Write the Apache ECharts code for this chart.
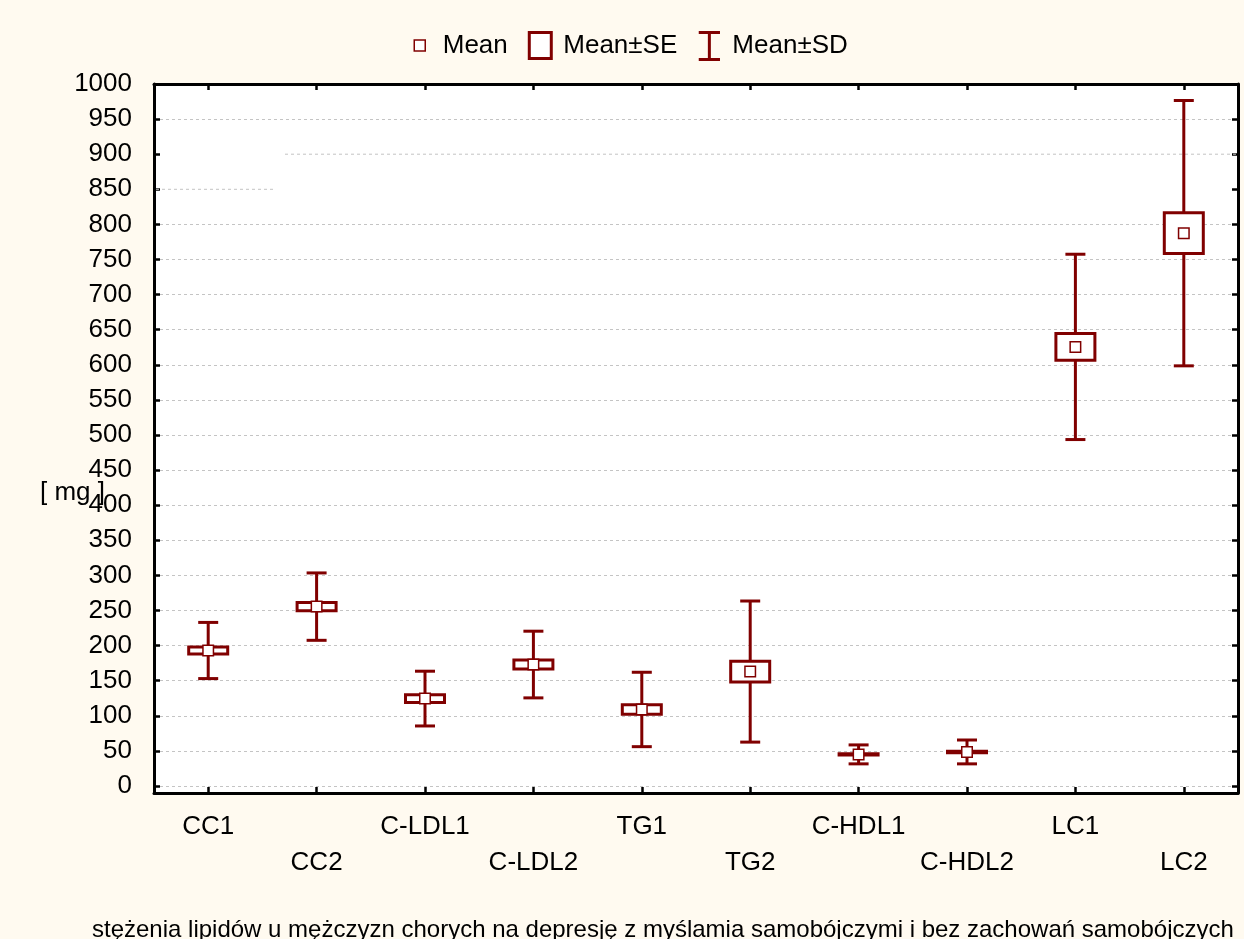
<!DOCTYPE html>
<html>
<head>
<meta charset="utf-8">
<script src="https://cdn.jsdelivr.net/npm/echarts@6/dist/echarts.min.js"></script>
<style>
  html, body { margin: 0; padding: 0; background: #fffaf0; }
  #main { width: 1244px; height: 939px; }
</style>
</head>
<body>
<div id="main"></div>
<script>
// dane
const categories = ['CC1', 'CC2', 'C-LDL1', 'C-LDL2', 'TG1', 'TG2', 'C-HDL1', 'C-HDL2', 'LC1', 'LC2'];
const means = [193, 255.5, 124.5, 173, 109, 163, 45, 48.5, 625.5, 787.5];
const seValues = [5, 6, 5.5, 6.5, 6.8, 14.7, 1, 1, 19, 29];
const sdValues = [40, 48, 39, 47.5, 53, 100.5, 13.5, 17, 132, 189];
const yTicks = [0, 50, 100, 150, 200, 250, 300, 350, 400, 450, 500, 550, 600, 650, 700, 750, 800, 850, 900, 950, 1000];
const xTitle = 'stężenia lipidów u mężczyzn chorych na depresję z myślamia samobójczymi i bez zachowań samobójczych';

const RED = '#800000';
const FONT = 'Arial, "Liberation Sans", sans-serif';

const seriesData = categories.map((c, i) => [i, means[i], seValues[i], sdValues[i]]);

// linie siatki - 850 i 900 rysowane osobno (tylko fragmenty)
const gridColors = yTicks.map(v => (v === 850 || v === 900) ? 'rgba(0,0,0,0)' : '#c4c4c4');

const chart = echarts.init(document.getElementById('main'));

function sdItem(params, api) {
  const x = api.coord([api.value(0), 0])[0];
  const top = api.coord([api.value(0), api.value(1) + api.value(3)])[1];
  const bot = api.coord([api.value(0), api.value(1) - api.value(3)])[1];
  const cap = 10;
  const st = { stroke: RED, lineWidth: 3 };
  return {
    type: 'group',
    children: [
      { type: 'line', shape: { x1: x, y1: top, x2: x, y2: bot }, style: st },
      { type: 'line', shape: { x1: x - cap, y1: top, x2: x + cap, y2: top }, style: st },
      { type: 'line', shape: { x1: x - cap, y1: bot, x2: x + cap, y2: bot }, style: st }
    ]
  };
}

function seItem(params, api) {
  const x = api.coord([api.value(0), 0])[0];
  const top = api.coord([api.value(0), api.value(1) + api.value(2)])[1];
  const bot = api.coord([api.value(0), api.value(1) - api.value(2)])[1];
  const hw = 19.5;
  return {
    type: 'rect',
    shape: { x: x - hw, y: top, width: hw * 2, height: bot - top },
    style: { fill: '#fff', stroke: RED, lineWidth: 3 }
  };
}

function meanItem(params, api) {
  const p = api.coord([api.value(0), api.value(1)]);
  const h = 5.25;
  return {
    type: 'rect',
    shape: { x: p[0] - h, y: p[1] - h, width: h * 2, height: h * 2 },
    style: { fill: '#fff', stroke: RED, lineWidth: 1.5 }
  };
}

const axisLine = { show: true, onZero: false, lineStyle: { color: '#000', width: 3 } };
const tickIn = { show: true, inside: true, length: 6, lineStyle: { color: '#000', width: 2.5 } };

const option = {
  backgroundColor: '#fffaf0',
  animation: false,
  textStyle: { fontFamily: FONT },
  legend: {
    top: 25,
    left: 402,
    itemWidth: 24,
    itemHeight: 28,
    itemGap: 19,
    selectedMode: false,
    textStyle: { fontSize: 26, color: '#000', fontFamily: FONT, padding: [0, 0, 0, 6] },
    data: [
      { name: 'Mean', icon: 'path://M0,0M24,28M6.5,8.5h11v11h-11z',
        itemStyle: { color: '#fff', borderColor: RED, borderWidth: 1.5 } },
      { name: 'Mean±SE', icon: 'path://M0,0M24,28M1,1h22v26h-22z',
        itemStyle: { color: '#fff', borderColor: RED, borderWidth: 3 } },
      { name: 'Mean±SD', icon: 'path://M0,0M24,28M1,1h22M12,1v28M1,29h22',
        itemStyle: { color: '#fff', borderColor: RED, borderWidth: 3 } }
    ]
  },
  grid: {
    left: 154,
    right: 6,
    top: 84,
    bottom: 146,
    show: true,
    backgroundColor: '#fff',
    borderWidth: 0
  },
  xAxis: [
    {
      type: 'category',
      data: categories,
      boundaryGap: true,
      axisLine: axisLine,
      axisTick: Object.assign({ alignWithLabel: true }, tickIn),
      axisLabel: {
        interval: 0,
        margin: 16,
        fontSize: 26,
        color: '#000',
        lineHeight: 36,
        formatter: (val, idx) => (idx % 2 === 1 ? '\n' + val : val)
      },
      splitLine: { show: false }
    },
    {
      type: 'category',
      data: categories,
      position: 'top',
      boundaryGap: true,
      axisLine: axisLine,
      axisTick: Object.assign({ alignWithLabel: true }, tickIn),
      axisLabel: { show: false },
      splitLine: { show: false }
    }
  ],
  yAxis: [
    {
      type: 'value',
      min: -10,
      max: 1000,
      axisLine: axisLine,
      axisTick: Object.assign({ customValues: yTicks }, tickIn),
      axisLabel: { customValues: yTicks, fontSize: 26, color: '#000', margin: 22, formatter: v => String(v) },
      splitLine: {
        show: true,
        lineStyle: { color: gridColors, type: [3, 3], width: 1 }
      }
    },
    {
      type: 'value',
      min: -10,
      max: 1000,
      position: 'right',
      axisLine: axisLine,
      axisTick: Object.assign({ customValues: yTicks }, tickIn),
      axisLabel: { show: false },
      splitLine: { show: false }
    }
  ],
  series: [
    {
      name: 'Mean±SD',
      type: 'custom',
      renderItem: sdItem,
      encode: { x: 0, y: 1 },
      itemStyle: { color: '#fff', borderColor: RED },
      data: seriesData
    },
    {
      name: 'Mean±SE',
      type: 'custom',
      renderItem: seItem,
      encode: { x: 0, y: 1 },
      itemStyle: { color: '#fff', borderColor: RED },
      data: seriesData
    },
    {
      name: 'Mean',
      type: 'custom',
      renderItem: meanItem,
      encode: { x: 0, y: 1 },
      itemStyle: { color: '#fff', borderColor: RED },
      data: seriesData
    }
  ],
  graphic: [
    {
      type: 'text',
      left: 40,
      top: 480,
      style: { text: '[ mg ]', fill: '#000', font: '26px ' + FONT }
    },
    {
      type: 'text',
      left: 92,
      top: 918,
      style: { text: xTitle, fill: '#000', font: '24px ' + FONT }
    }
  ]
};

chart.setOption(option);

// fragmenty linii siatki 850 i 900
const y850 = chart.convertToPixel({ yAxisIndex: 0 }, 850);
const y900 = chart.convertToPixel({ yAxisIndex: 0 }, 900);
const dashStyle = { stroke: '#c4c4c4', lineWidth: 1, lineDash: [3, 3] };
chart.setOption({
  graphic: [
    { type: 'line', id: 'g850', z: 1, shape: { x1: 156, y1: y850, x2: 273, y2: y850 }, style: dashStyle },
    { type: 'line', id: 'g900', z: 1, shape: { x1: 285, y1: y900, x2: 1236, y2: y900 }, style: dashStyle }
  ]
});
</script>
</body>
</html>
